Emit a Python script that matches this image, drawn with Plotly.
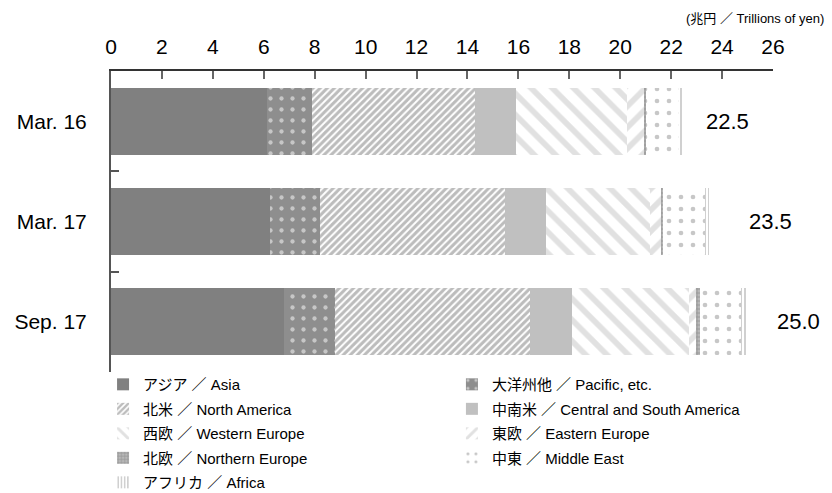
import plotly.graph_objects as go

# ---- data ----
periods = ["Mar. 16", "Mar. 17", "Sep. 17"]
totals = [22.5, 23.5, 25.0]
regions = [
    "アジア ／ Asia",
    "大洋州他 ／ Pacific, etc.",
    "北米 ／ North America",
    "中南米 ／ Central and South America",
    "西欧 ／ Western Europe",
    "東欧 ／ Eastern Europe",
    "北欧 ／ Northern Europe",
    "中東 ／ Middle East",
    "アフリカ ／ Africa",
]
asia = [6.13, 6.25, 6.81]
pacific = [1.78, 1.96, 1.99]
north_america = [6.38, 7.26, 7.65]
central_south_america = [1.61, 1.61, 1.67]
western_europe = [4.37, 4.08, 4.60]
eastern_europe = [0.68, 0.43, 0.27]
northern_europe = [0.07, 0.09, 0.13]
middle_east = [1.28, 1.66, 1.63]
africa = [0.19, 0.16, 0.25]
x_ticks = list(range(0, 27, 2))

series = [asia, pacific, north_america, central_south_america, western_europe,
          eastern_europe, northern_europe, middle_east, africa]

# ---- styles ----
styles = [
    dict(color="#808080"),
    dict(color="#8e8e8e", pattern=dict(shape=".", bgcolor="#8e8e8e", fgcolor="#ffffff",
                                        size=11, solidity=0.12)),
    dict(color="#ffffff", pattern=dict(shape="/", bgcolor="#ffffff", fgcolor="#7a7a7a",
                                        size=5, solidity=0.6)),
    dict(color="#c0c0c0"),
    dict(color="#ffffff", pattern=dict(shape="\\", bgcolor="#ffffff", fgcolor="#c4c4c4",
                                        size=15, solidity=0.38)),
    dict(color="#ffffff", pattern=dict(shape="/", bgcolor="#ffffff", fgcolor="#c4c4c4",
                                        size=15, solidity=0.38)),
    dict(color="#b0b0b0", pattern=dict(shape="+", bgcolor="#b8b8b8", fgcolor="#707070",
                                        size=4, solidity=0.4)),
    dict(color="#ffffff", pattern=dict(shape=".", bgcolor="#ffffff", fgcolor="#8f8f8f",
                                        size=12, solidity=0.12)),
    dict(color="#ffffff", pattern=dict(shape="|", bgcolor="#ffffff", fgcolor="#8a8a8a",
                                        size=4, solidity=0.4)),
]
# legend column for each region (left column / right column)
legend_ids = ["legend", "legend2", "legend", "legend2", "legend",
              "legend2", "legend", "legend2", "legend"]

FONT = "Liberation Sans, Arial, Noto Sans CJK JP, sans-serif"

fig = go.Figure()
for name, vals, st, lg in zip(regions, series, styles, legend_ids):
    marker = dict(color=st["color"], line=dict(width=0))
    if "pattern" in st:
        marker["pattern"] = st["pattern"]
    fig.add_trace(go.Bar(
        y=periods, x=vals, name=name, orientation="h", marker=marker,
        legend=lg, legendgroup=name, hoverinfo="skip",
    ))

label_shift = [20, 38, 27]
for p, t, s in zip(periods, totals, label_shift):
    fig.add_annotation(x=t, y=p, text=f"{t:.1f}", showarrow=False,
                       xanchor="left", yanchor="middle", xshift=s,
                       font=dict(size=22, color="#000", family=FONT))

fig.add_annotation(xref="paper", yref="paper", x=1.08, y=1.173,
                   text="(兆円 ／ Trillions of yen)", showarrow=False,
                   xanchor="right", yanchor="middle",
                   font=dict(size=13, color="#000", family=FONT))

legend_common = dict(orientation="v", xanchor="left", yanchor="top",
                     traceorder="grouped", tracegroupgap=2,
                     font=dict(size=15, family=FONT, color="#000"),
                     bgcolor="rgba(0,0,0,0)")

fig.update_layout(
    width=832, height=493,
    margin=dict(l=111, r=59, t=71, b=121, autoexpand=False),
    paper_bgcolor="white", plot_bgcolor="white",
    barmode="stack", bargap=0.335,
    font=dict(family=FONT, color="#000"),
    showlegend=True,
    legend=dict(x=-0.012, y=0.013, **legend_common),
    legend2=dict(x=0.515, y=0.013, **legend_common),
    xaxis=dict(side="top", range=[0, 26], tickvals=x_ticks, ticks="inside",
               ticklen=8, tickcolor="#666", tickwidth=1.5,
               showline=True, linecolor="#333", linewidth=1.5,
               showgrid=False, zeroline=False, ticklabelstandoff=7,
               tickfont=dict(size=21, family=FONT, color="#000")),
    yaxis=dict(autorange="reversed", type="category", tickson="boundaries",
               ticks="inside", ticklen=8, tickcolor="#555", tickwidth=1.5,
               showline=True, linecolor="#555", linewidth=2,
               showgrid=False, zeroline=False, ticklabelstandoff=18,
               tickfont=dict(size=21, family=FONT, color="#000")),
)

fig.write_html("out.html", config={"displayModeBar": False},
               post_script="document.body.style.margin='0';")
